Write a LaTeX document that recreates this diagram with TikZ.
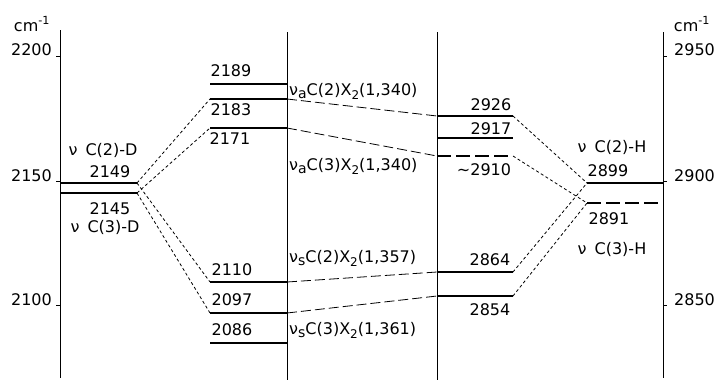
\documentclass[tikz,border=0pt]{standalone}
\usepackage{fontspec}
\setmainfont{DejaVu Sans}
\newcommand\vlab[3]{ν\raisebox{-3pt}{\fontsize{14}{14}\selectfont #1}C(#2)X\raisebox{-4pt}{\fontsize{12}{12}\selectfont 2}(#3)}
\begin{document}
\begin{tikzpicture}[x=1pt,y=-1pt,
  axis/.style={line width=0.9pt},
  lvl/.style={line width=2.7pt},
  lvldash/.style={line width=2.7pt, dash pattern=on 14pt off 5pt},
  conn/.style={line width=0.8pt, dash pattern=on 3pt off 2.5pt},
  longconn/.style={line width=0.8pt, dash pattern=on 10pt off 4pt},
  lab/.style={inner sep=0pt, font=\fontsize{16}{18}\selectfont},
  ]
\useasboundingbox (0,0) rectangle (721,380);
% axes and column lines
\coordinate (LAt) at (60,30);  \coordinate (LAb) at (60,378);
\coordinate (M1t) at (287,32); \coordinate (M1b) at (287,380);
\coordinate (M2t) at (437,32); \coordinate (M2b) at (437,380);
\coordinate (RAt) at (663,32); \coordinate (RAb) at (663,378);
\draw[axis] (LAt) -- (LAb);
\draw[axis] (M1t) -- (M1b);
\draw[axis] (M2t) -- (M2b);
\draw[axis] (RAt) -- (RAb);
% ticks
\foreach \y/\t in {56/a,181/b,305/c}{
  \coordinate (lt\t) at (56,\y); \coordinate (lu\t) at (60,\y);
  \draw[axis] (lt\t) -- (lu\t);
  \coordinate (rt\t) at (663,\y); \coordinate (ru\t) at (667,\y);
  \draw[axis] (rt\t) -- (ru\t);
}
\node[lab,anchor=base east] (t2200) at (52,56) {2200};
\node[lab,anchor=base east] (t2150) at (52,181) {2150};
\node[lab,anchor=base east] (t2100) at (52,305) {2100};
\node[lab,anchor=base west] (t2950) at (674,56) {2950};
\node[lab,anchor=base west] (t2900) at (674,181) {2900};
\node[lab,anchor=base west] (t2850) at (674,305) {2850};
\node[lab] (cmL) at (32,24) {cm\textsuperscript{-1}};
\node[lab] (cmR) at (692,24) {cm\textsuperscript{-1}};
% levels
\foreach \n/\xa/\xb/\y in {L2149/60/137/183, L2145/60/137/193,
  M2189/210/287/84, M2183/210/287/99, M2171/210/287/128,
  M2110/210/287/282, M2097/210/287/313, M2086/210/287/343,
  R2926/437/513/116, R2917/437/513/138, R2864/437/513/272, R2854/437/513/296,
  H2899/587/663/183}{
  \coordinate (\n w) at (\xa,\y); \coordinate (\n e) at (\xb,\y);
  \draw[lvl] (\n w) -- (\n e);
}
\foreach \n/\xa/\xb/\y in {R2910/437/513/156, H2891/587/663/203}{
  \coordinate (\n w) at (\xa,\y); \coordinate (\n e) at (\xb,\y);
  \draw[lvldash] (\n w) -- (\n e);
}
% short-dash connectors
\draw[conn] (L2149e) -- (M2183w);
\draw[conn] (L2145e) -- (M2171w);
\draw[conn] (L2149e) -- (M2110w);
\draw[conn] (L2145e) -- (M2097w);
\draw[conn] (R2926e) -- (H2899w);
\draw[conn] (R2910e) -- (H2891w);
\draw[conn] (R2864e) -- (H2899w);
\draw[conn] (R2854e) -- (H2891w);
% long-dash connectors
\draw[longconn] (M2183e) -- (R2926w);
\draw[longconn] (M2171e) -- (R2910w);
\draw[longconn] (M2110e) -- (R2864w);
\draw[longconn] (M2097e) -- (R2854w);
% labels left
\node[lab] (nC2D) at (103,150) {ν\enspace C(2)-D};
\node[lab] (n2149) at (110,172) {2149};
\node[lab] (n2145) at (110,209) {2145};
\node[lab] (nC3D) at (105,227) {ν\enspace C(3)-D};
% labels middle-left
\node[lab] (n2189) at (231,71) {2189};
\node[lab] (n2183) at (231,110) {2183};
\node[lab] (n2171) at (230,139) {2171};
\node[lab] (n2110) at (232,270) {2110};
\node[lab] (n2097) at (232,300) {2097};
\node[lab] (n2086) at (232,330) {2086};
\node[lab,anchor=west] (va2) at (289,91) {\vlab{a}{2}{1,340}};
\node[lab,anchor=west] (va3) at (289,166) {\vlab{a}{3}{1,340}};
\node[lab,anchor=west] (vs2) at (289,258) {\vlab{s}{2}{1,357}};
\node[lab,anchor=west] (vs3) at (289,330) {\vlab{s}{3}{1,361}};
% labels middle-right
\node[lab] (n2926) at (491,105) {2926};
\node[lab] (n2917) at (491,129) {2917};
\node[lab] (n2910) at (484,170) {\textasciitilde2910};
\node[lab] (n2864) at (490,260) {2864};
\node[lab] (n2854) at (490,310) {2854};
% labels right
\node[lab] (nC2H) at (612,147) {ν\enspace C(2)-H};
\node[lab] (n2899) at (608,171) {2899};
\node[lab] (n2891) at (609,219) {2891};
\node[lab] (nC3H) at (612,249) {ν\enspace C(3)-H};
\end{tikzpicture}
\end{document}
